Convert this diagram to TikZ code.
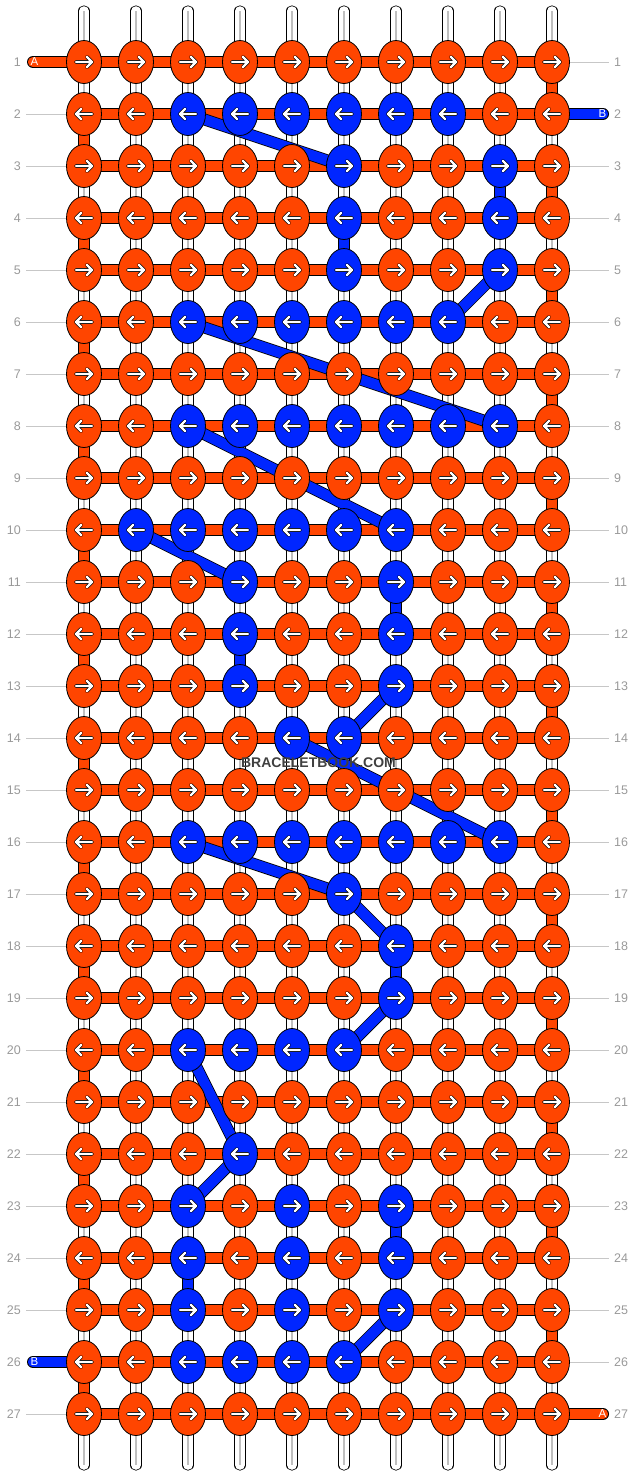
\documentclass[tikz,border=0pt]{standalone}
\usepackage{fontspec}
\setmainfont{Liberation Sans}
\usetikzlibrary{shapes.geometric}
\pgfdeclarelayer{background}
\pgfsetlayers{background,main}
\definecolor{strA}{HTML}{FF4500}
\definecolor{strB}{HTML}{0026FF}
\tikzset{
  knot/.style={ellipse, draw=black, line width=0.8pt, minimum width=35pt,
    minimum height=43pt, inner sep=0pt},
  knotR/.style={knot, path picture={\draw[arrowline, shift={(path picture bounding box.center)}]
      (-8pt,0) -- (8pt,0) (3pt,5pt) -- (8pt,0) -- (3pt,-5pt);}},
  knotL/.style={knot, path picture={\draw[arrowline, shift={(path picture bounding box.center)}]
      (8pt,0) -- (-8pt,0) (-3pt,5pt) -- (-8pt,0) -- (-3pt,-5pt);}},
  arrowline/.style={draw=black, line width=0.7pt, double=white, double distance=2.2pt,
    line cap=round, line join=round},
  strand/.style={draw=black, line width=0.8pt, double=#1, double distance=10.4pt},
  tube/.style={draw=black, line width=0.8pt, double=white, double distance=9.6pt, line cap=round},
  tubecore/.style={draw=black!25, line width=1.4pt},
  guide/.style={draw=black!22, line width=0.8pt},
  rowlabel/.style={text=gray!80, inner sep=0pt, font=\fontsize{12.5}{14}\selectfont},
  tag/.style={text=white, inner sep=0pt, font=\fontsize{11.5}{13}\selectfont}
}
\begin{document}
\begin{tikzpicture}[x=1pt, y=-1pt]
\useasboundingbox (0,0) rectangle (636,1476);

% knots: 0 = A in front, 1 = B in front
\foreach \r/\pat in {1/{0,0,0,0,0,0,0,0,0,0},2/{0,0,1,1,1,1,1,1,0,0},3/{0,0,0,0,0,1,0,0,1,0},
    4/{0,0,0,0,0,1,0,0,1,0},5/{0,0,0,0,0,1,0,0,1,0},6/{0,0,1,1,1,1,1,1,0,0},
    7/{0,0,0,0,0,0,0,0,0,0},8/{0,0,1,1,1,1,1,1,1,0},9/{0,0,0,0,0,0,0,0,0,0},
    10/{0,1,1,1,1,1,1,0,0,0},11/{0,0,0,1,0,0,1,0,0,0},12/{0,0,0,1,0,0,1,0,0,0},
    13/{0,0,0,1,0,0,1,0,0,0},14/{0,0,0,0,1,1,0,0,0,0},15/{0,0,0,0,0,0,0,0,0,0},
    16/{0,0,1,1,1,1,1,1,1,0},17/{0,0,0,0,0,1,0,0,0,0},18/{0,0,0,0,0,0,1,0,0,0},
    19/{0,0,0,0,0,0,1,0,0,0},20/{0,0,1,1,1,1,0,0,0,0},21/{0,0,0,0,0,0,0,0,0,0},
    22/{0,0,0,1,0,0,0,0,0,0},23/{0,0,1,0,1,0,1,0,0,0},24/{0,0,1,0,1,0,1,0,0,0},
    25/{0,0,1,0,1,0,1,0,0,0},26/{0,0,1,1,1,1,0,0,0,0},27/{0,0,0,0,0,0,0,0,0,0}} {
  \foreach \v [count=\c] in \pat {
    \ifnum\v=1 \def\kc{strB}\else \def\kc{strA}\fi
    \ifodd\r
      \node[knotR, fill=\kc] (k-\r-\c) at (32+52*\c, 10+52*\r) {};
    \else
      \node[knotL, fill=\kc] (k-\r-\c) at (32+52*\c, 10+52*\r) {};
    \fi
  }
}

% row numbers
\foreach \r in {1,...,27} {
  \node[rowlabel, anchor=east] (labL-\r) at (21, 10+52*\r) {\r};
  \node[rowlabel, anchor=west] (labR-\r) at (614, 10+52*\r) {\r};
}

% string ends
\coordinate (endA1) at (33,62);
\coordinate (endB2) at (603,114);
\coordinate (endB26) at (33,1362);
\coordinate (endA27) at (603,1414);
\node[tag] (tagA1) at (34.5,62) {A};
\node[tag] (tagB2) at (602.5,114) {B};
\node[tag] (tagB26) at (34.5,1362) {B};
\node[tag] (tagA27) at (602.5,1414) {A};

\node[text=black!75, font=\bfseries\fontsize{14}{16}\selectfont] (mark) at (318.5,763) {BRACELETBOOK.COM};

\begin{pgfonlayer}{background}
% vertical strings
\foreach \c in {1,...,10} {
  \coordinate (top-\c) at (32+52*\c, 11);
  \coordinate (bot-\c) at (32+52*\c, 1465);
  \draw[tube] (top-\c) -- (bot-\c);
  \draw[tubecore] (top-\c) -- (bot-\c);
}

% guide lines to the row numbers
\foreach \r in {1,...,27} {
  \ifnum\r=1 \else\ifnum\r=26 \else
    \draw[guide] ([xshift=5pt]labL-\r.east) -- (k-\r-1.center);
  \fi\fi
  \ifnum\r=2 \else\ifnum\r=27 \else
    \draw[guide] (k-\r-10.center) -- ([xshift=-5pt]labR-\r.west);
  \fi\fi
}

% string A across the rows and round the edges
\foreach \r in {1,...,27}
  \draw[strand=strA] (k-\r-1.center) -- (k-\r-10.center);
\foreach \r in {1,...,26} {
  \pgfmathtruncatemacro\rn{\r+1}
  \ifodd\r \def\ec{10}\else \def\ec{1}\fi
  \draw[strand=strA] (k-\r-\ec.center) -- (k-\rn-\ec.center);
}
\draw[strand=strA, line cap=round] (endA1) -- (k-1-1.center);
\draw[strand=strA, line cap=round] (endA27) -- (k-27-10.center);

% string B
\draw[strand=strB, line cap=round] (endB2) -- (k-2-10.center);
\draw[strand=strB, line cap=round] (endB26) -- (k-26-1.center);
\foreach \ra/\ca/\rb/\cb in {2/3/3/6,3/9/4/9,4/6/5/6,5/9/6/8,6/3/8/9,8/3/10/7,
    10/2/11/4,11/7/12/7,12/4/13/4,13/7/14/6,14/5/16/9,16/3/17/6,17/6/18/7,
    18/7/19/7,19/7/20/6,20/3/22/4,22/4/23/3,23/7/24/7,24/3/25/3,25/7/26/6}
  \draw[strand=strB] (k-\ra-\ca.center) -- (k-\rb-\cb.center);
\end{pgfonlayer}
\end{tikzpicture}
\end{document}
